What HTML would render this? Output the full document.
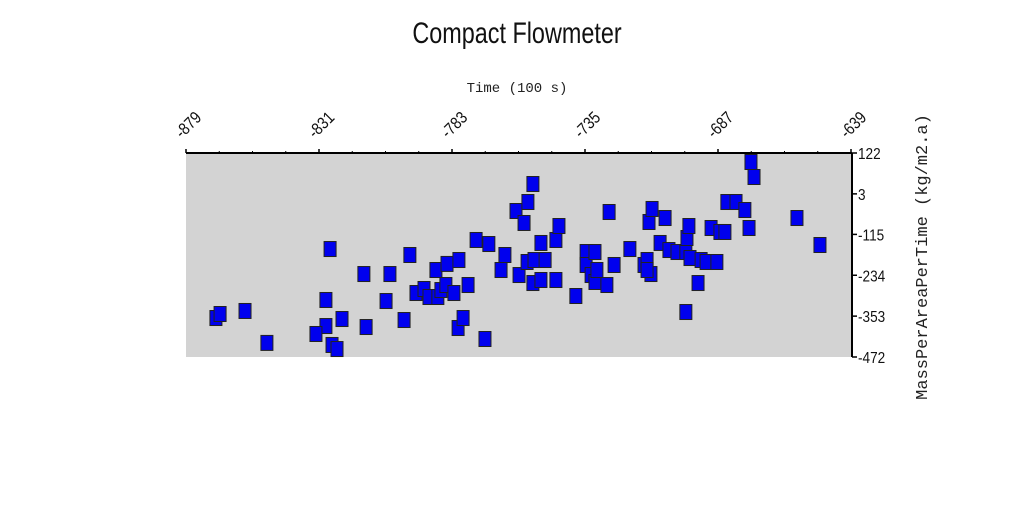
<!DOCTYPE html>
<html><head><meta charset="utf-8"><style>
html,body{margin:0;padding:0;background:#fff;width:1024px;height:512px;overflow:hidden}
svg{display:block}
</style></head><body>
<svg id="chart" width="1024" height="512" xmlns="http://www.w3.org/2000/svg">
<text x="517" y="43" text-anchor="middle" font-family="Liberation Sans, sans-serif" font-size="30" transform="translate(517 0) scale(0.78 1) translate(-517 0)" fill="#111">Compact Flowmeter</text>
<text x="517" y="92" text-anchor="middle" font-family="Liberation Mono, monospace" font-size="14" fill="#222">Time (100 s)</text>
<text x="0" y="0" text-anchor="middle" font-family="Liberation Mono, monospace" font-size="17" fill="#222" transform="translate(927 257) rotate(-90)">MassPerAreaPerTime (kg/m2.a)</text>
<rect x="186" y="153" width="665" height="204" fill="#d3d3d3"/>
<g id="axes"></g>
<g id="marks"></g>
</svg>
<script>
const xTicks=[-879,-831,-783,-735,-687,-639];
const yTicks=[122,3,-115,-234,-353,-472];
const xValues=[-868.2,-866.7,-857.7,-849.8,-827,-828.5,-828.5,-826.3,-824.5,-832.1,-822.7,-814.8,-814,-805.4,-806.8,-800.3,-798.2,-796,-793.1,-791.3,-788.8,-788.1,-787,-784.8,-785.2,-782.3,-780.5,-780.8,-779,-777.2,-774.3,-771.1,-769.7,-765.3,-763.9,-759.9,-758.8,-757,-755.6,-753.8,-755.9,-753.8,-753.4,-750.9,-750.9,-749.4,-745.5,-744.4,-745.5,-738.3,-734.6,-734.6,-731.4,-732.8,-731.4,-730.7,-727.1,-726.3,-724.5,-718.8,-713.7,-712.6,-711.9,-710.8,-711.2,-707.9,-706.1,-704.7,-701.8,-698.6,-698.6,-698.2,-697.5,-697.1,-694.2,-693.1,-691.3,-689.5,-687.4,-686.3,-684.5,-683.8,-680.5,-677.3,-675.8,-675.1,-674,-658.5,-650.2,-712.6];
const yValues=[-358.5,-346.8,-338,-431,-157.6,-306,-381.8,-437,-448.8,-405,-361.4,-230.4,-384.7,-230.4,-309,-364.3,-175,-285.7,-274,-297.3,-218.7,-297.3,-277,-201,-262.4,-285.7,-189.6,-387.6,-358.5,-262.4,-131.3,-419.6,-143,-218.7,-175,-46.9,-233.3,-81.8,-20.7,31.7,-195.4,-256.6,-189.6,-140,-247.8,-189.6,-131.3,-90.6,-247.8,-294.4,-166.3,-204.1,-166.3,-233.3,-253.6,-218.7,-262.4,-49.8,-204.1,-157.6,-204.1,-189.6,-78.9,-41,-230.4,-140,-67.3,-160.5,-166.3,-166.3,-341,-125.5,-90.6,-183.8,-256.6,-189.6,-195.4,-96.4,-195.4,-108,-108,-20.7,-20.7,-44,-96.4,95.8,52.1,-67.3,-145.9,-218.7];
const X0=186,X1=851,Y0=153,Y1=357;
function sx(v){return X0+(v-xTicks[0])/(xTicks[xTicks.length-1]-xTicks[0])*(X1-X0);}
function sy(v){return Y0+(yTicks[0]-v)/(yTicks[0]-yTicks[yTicks.length-1])*(Y1-Y0);}
const NS='http://www.w3.org/2000/svg';
const axes=document.getElementById('axes'),marks=document.getElementById('marks');
function mk(t,a,p){const e=document.createElementNS(NS,t);for(const k in a)e.setAttribute(k,a[k]);p.appendChild(e);return e;}
let l=mk('line',{x1:X0,y1:Y0,x2:X1+1,y2:Y0,stroke:'#000','stroke-width':2},axes);


l=mk('line',{x1:X1+1,y1:Y0,x2:X1+1,y2:Y1,stroke:'#000','stroke-width':2},axes);


xTicks.forEach(v=>{
  const x=sx(v);
  mk('line',{x1:x,y1:Y0-4,x2:x,y2:Y0,stroke:'#000','stroke-width':1.5},axes);
  const t=mk('text',{x:0,y:0,'font-family':'Liberation Sans, sans-serif','font-size':17,fill:'#111',transform:`translate(${x-4} ${Y0-14}) rotate(-45) scale(0.85 1)`},axes);
  t.textContent=v;
  
  
});
for(let i=0;i<xTicks.length-1;i++){for(let j=1;j<4;j++){const x=sx(xTicks[i])+(sx(xTicks[i+1])-sx(xTicks[i]))*j/4;mk('line',{x1:x,y1:Y0-2,x2:x,y2:Y0,stroke:'#000'},axes);}}
yTicks.forEach(v=>{
  const y=sy(v);
  mk('line',{x1:X1+1,y1:y,x2:X1+6,y2:y,stroke:'#000','stroke-width':1.5},axes);
  const t=mk('text',{x:0,y:0,'font-family':'Liberation Sans, sans-serif','font-size':16,fill:'#111',transform:`translate(${X1+7} ${y+6}) scale(0.85 1)`},axes);
  t.textContent=v;
  
  
});
xValues.forEach((v,i)=>{
  const r=mk('rect',{x:sx(v)-6,y:sy(yValues[i])-7.5,width:12,height:15,fill:'#0000ee',stroke:'#222','stroke-width':1},marks);
  
  
});
</script>
</body></html>
